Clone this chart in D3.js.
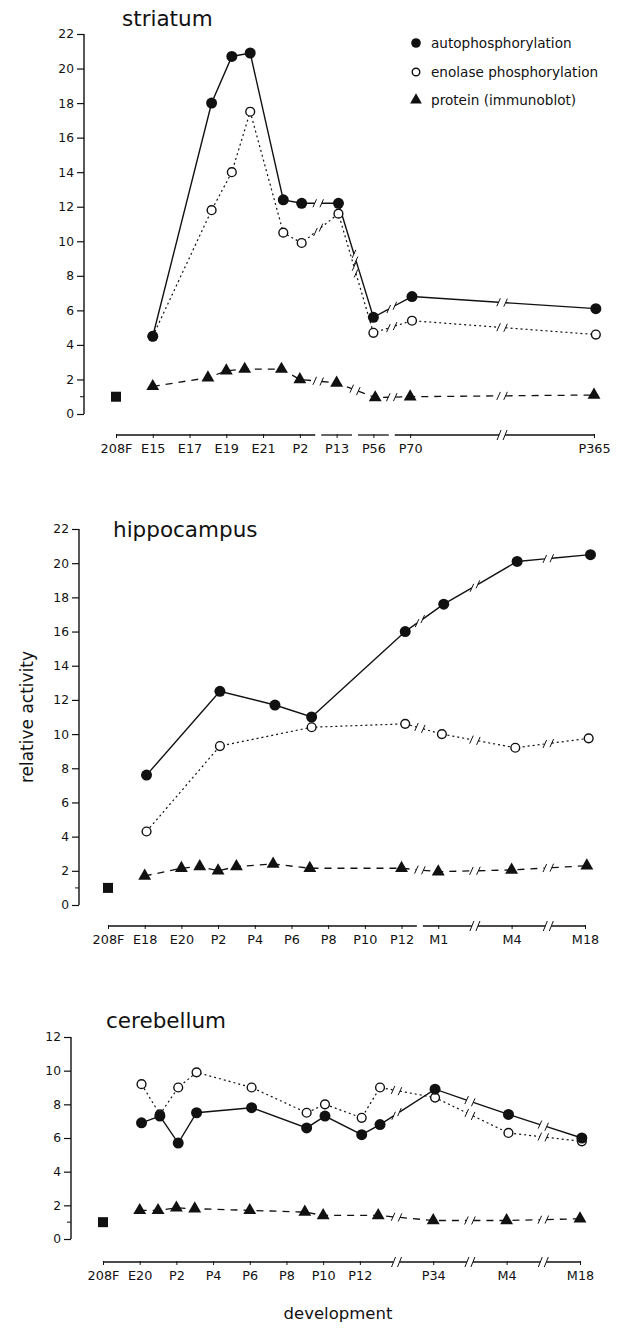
<!DOCTYPE html>
<html><head><meta charset="utf-8">
<script src="https://cdn.jsdelivr.net/npm/d3@7/dist/d3.min.js"></script>
<style>
body{margin:0;background:#fff;}
svg{display:block;}
text{font-family:"DejaVu Sans",sans-serif;fill:#111;}
</style></head>
<body><svg id="c" width="619" height="1329"></svg>
<script>
// ---------- DATA ----------
// Striatum
const strTickLabels = ["208F","E15","E17","E19","E21","P2","P13","P56","P70","P365"];
const strTickPos    = [0,1,2,3,4,5,6,7,8,13];
const strCircX      = [1.0,2.6,3.15,3.65,4.55,5.05,6.05,7.0,8.05,13.05];
const strAuto       = [4.5,18.0,20.7,20.9,12.4,12.2,12.2,5.6,6.8,6.1];
const strEnol       = [4.5,11.8,14.0,17.5,10.5,9.9,11.6,4.7,5.4,4.6];
const strTriX       = [1,2.5,3,3.5,4.5,5,6,7.05,8,13];
const strProt       = [1.6,2.1,2.5,2.6,2.6,2.0,1.8,0.95,1.0,1.1];
const strBreaks     = [5.5,6.5,7.5,10.5];
const strAxisSlash  = [10.5];

// Hippocampus
const hipTickLabels = ["208F","E18","E20","P2","P4","P6","P8","P10","P12","M1","M4","M18"];
const hipTickPos    = [0,1,2,3,4,5,6,7,8,9,11,13];
const hipAutoX      = [1.05,3.05,4.55,5.55,8.1,9.15,11.15,13.15];
const hipAuto       = [7.6,12.5,11.7,11.0,16.0,17.6,20.1,20.5];
const hipEnolX      = [1.05,3.05,5.55,8.1,9.1,11.1,13.1];
const hipEnol       = [4.3,9.3,10.4,10.6,10.0,9.2,9.75];
const hipTriX       = [1,2,2.5,3,3.5,4.5,5.5,8,9,11,13.05];
const hipProt       = [1.7,2.15,2.25,2.0,2.25,2.4,2.15,2.15,1.95,2.05,2.3];
const hipBreaks     = [8.5,10,12];
const hipAxisSlash  = [10,12];

// Cerebellum
const cerTickLabels = ["208F","E20","P2","P4","P6","P8","P10","P12","P34","M4","M18"];
const cerTickPos    = [0,1,2,3,4,5,6,7,9,11,13];
const cerCircX      = [1.05,1.55,2.05,2.55,4.05,5.55,6.05,7.05,7.55,9.05,11.05,13.05];
const cerAuto       = [6.9,7.3,5.7,7.5,7.8,6.6,7.3,6.2,6.8,8.9,7.4,6.0];
const cerEnol       = [9.2,7.4,9.0,9.9,9.0,7.5,8.0,7.2,9.0,8.4,6.3,5.8];
const cerTriX       = [1,1.5,2,2.5,4,5.5,6,7.5,9,11,13];
const cerProt       = [1.7,1.7,1.85,1.8,1.7,1.6,1.4,1.4,1.1,1.1,1.2];
const cerBreaks     = [8,10,12];
const cerAxisSlash  = [8,10,12];

const refValue = 1.0; // 208F reference (square)
const legendLabels = ["autophosphorylation","enolase phosphorylation","protein (immunoblot)"];

// ---------- LAYOUT ----------
const svg = d3.select("#c");
const panels = [
  {title:"striatum", titleX:122, titleY:26, yAxisX:84, yTop:34, yBot:414, yMax:22,
   xL:116, xR:594, axisY:435, tickLabels:strTickLabels, tickPos:strTickPos,
   auto:{x:strCircX,y:strAuto}, enol:{x:strCircX,y:strEnol}, prot:{x:strTriX,y:strProt},
   breaks:strBreaks, axisSlash:strAxisSlash},
  {title:"hippocampus", titleX:113, titleY:537, yAxisX:79, yTop:529, yBot:905, yMax:22,
   xL:108, xR:585, axisY:926, tickLabels:hipTickLabels, tickPos:hipTickPos,
   auto:{x:hipAutoX,y:hipAuto}, enol:{x:hipEnolX,y:hipEnol}, prot:{x:hipTriX,y:hipProt},
   breaks:hipBreaks, axisSlash:hipAxisSlash},
  {title:"cerebellum", titleX:106, titleY:1028, yAxisX:71, yTop:1037, yBot:1239, yMax:12,
   xL:103, xR:580, axisY:1262, tickLabels:cerTickLabels, tickPos:cerTickPos,
   auto:{x:cerCircX,y:cerAuto}, enol:{x:cerCircX,y:cerEnol}, prot:{x:cerTriX,y:cerProt},
   breaks:cerBreaks, axisSlash:cerAxisSlash}
];

function drawSeries(g, xs, ys, sx, sy, breaks, style){
  const pts = xs.map((x,i)=>[sx(x), sy(ys[i])]);
  const gap = 3.5;
  let segs = [];
  let cur = [pts[0]];
  const slashes = [];
  for(let i=0;i<pts.length-1;i++){
    const a=pts[i], b=pts[i+1];
    const x0=xs[i], x1=xs[i+1];
    const bs = breaks.filter(v=>v>x0 && v<x1);
    if(bs.length){
      const bx = bs[0];
      const t = (bx-x0)/(x1-x0);
      const px = a[0]+(b[0]-a[0])*t, py=a[1]+(b[1]-a[1])*t;
      const len = Math.hypot(b[0]-a[0], b[1]-a[1]);
      const ux=(b[0]-a[0])/len, uy=(b[1]-a[1])/len;
      cur.push([px-ux*gap, py-uy*gap]);
      segs.push(cur);
      cur=[[px+ux*gap, py+uy*gap], b];
      slashes.push([px-ux*gap,py-uy*gap],[px+ux*gap,py+uy*gap]);
    } else cur.push(b);
  }
  segs.push(cur);
  const line = d3.line();
  segs.forEach(s=>{
    g.append("path").attr("d", line(s)).attr("fill","none")
     .attr("stroke","#111").attr("stroke-width", style.w)
     .attr("stroke-dasharray", style.dash||null);
  });
  slashes.forEach(p=>{
    g.append("line").attr("x1",p[0]-1.8).attr("y1",p[1]+4).attr("x2",p[0]+1.8).attr("y2",p[1]-4)
     .attr("stroke","#111").attr("stroke-width",1);
  });
  return pts;
}

panels.forEach(P=>{
  const g = svg.append("g");
  const sx = d3.scaleLinear().domain([0,13]).range([P.xL,P.xR]);
  const sy = d3.scaleLinear().domain([0,P.yMax]).range([P.yBot,P.yTop]);

  // y axis
  const yAx = d3.axisLeft(sy).tickValues(d3.range(0,P.yMax+1,2)).tickSize(7).tickPadding(3);
  const ya = g.append("g").attr("transform",`translate(${P.yAxisX},0)`).call(yAx);
  ya.select(".domain").attr("d",`M0,${P.yBot}V${P.yTop}`).attr("stroke","#111").attr("stroke-width",1.4);
  ya.selectAll(".tick line").attr("stroke","#111").attr("stroke-width",1.2);
  ya.selectAll(".tick text").attr("font-family","DejaVu Sans").attr("font-size",12.3).attr("fill","#111");
  g.append("line").attr("x1",P.yAxisX-4).attr("x2",P.yAxisX).attr("y1",sy(1)).attr("y2",sy(1))
   .attr("stroke","#111").attr("stroke-width",1);

  // x axis (broken)
  const xAx = d3.axisBottom(sx).tickValues(P.tickPos).tickFormat((d,i)=>P.tickLabels[i]).tickSize(3).tickPadding(6);
  const xa = g.append("g").attr("transform",`translate(0,${P.axisY})`).call(xAx);
  xa.select(".domain").remove();
  xa.selectAll(".tick line").attr("stroke","#111").attr("stroke-width",1).attr("y1",-1);
  xa.selectAll(".tick text").attr("font-family","DejaVu Sans").attr("font-size",12.8).attr("fill","#111");
  const cuts = [0, ...P.breaks, 13];
  for(let i=0;i<cuts.length-1;i++){
    const a = sx(cuts[i]) + (i>0?3:0), b = sx(cuts[i+1]) - (i<cuts.length-2?3:0);
    g.append("line").attr("x1",a).attr("x2",b).attr("y1",P.axisY).attr("y2",P.axisY)
     .attr("stroke","#111").attr("stroke-width",1.3);
  }
  P.axisSlash.forEach(v=>{
    [-3,3].forEach(o=>{
      g.append("line").attr("x1",sx(v)+o-2).attr("y1",P.axisY+5).attr("x2",sx(v)+o+2).attr("y2",P.axisY-5)
       .attr("stroke","#111").attr("stroke-width",1);
    });
  });

  // title
  g.append("text").attr("x",P.titleX).attr("y",P.titleY).attr("font-size",21.5).text(P.title);

  // series
  const autoPts = drawSeries(g,P.auto.x,P.auto.y,sx,sy,P.breaks,{w:1.4});
  const enolPts = drawSeries(g,P.enol.x,P.enol.y,sx,sy,P.breaks,{w:1.2,dash:"2,3"});
  const protPts = drawSeries(g,P.prot.x,P.prot.y,sx,sy,P.breaks,{w:1.3,dash:"7,6"});

  const tri = d3.symbol().type(d3.symbolTriangle).size(72);
  g.selectAll(null).data(protPts).join("path").attr("d",tri)
   .attr("transform",d=>`translate(${d[0]},${d[1]})`).attr("fill","#111");
  g.selectAll(null).data(enolPts).join("circle").attr("cx",d=>d[0]).attr("cy",d=>d[1]).attr("r",4.4)
   .attr("fill","#fff").attr("stroke","#111").attr("stroke-width",1.4);
  g.selectAll(null).data(autoPts).join("circle").attr("cx",d=>d[0]).attr("cy",d=>d[1]).attr("r",5.5)
   .attr("fill","#111");
  g.append("rect").attr("x",sx(0)-5).attr("y",sy(refValue)-5).attr("width",10).attr("height",10).attr("fill","#111");
});

// legend
const lg = svg.append("g");
const lx = 416, ly=[43,72,100];
lg.append("circle").attr("cx",lx).attr("cy",ly[0]).attr("r",4.8).attr("fill","#111");
lg.append("circle").attr("cx",lx).attr("cy",ly[1]).attr("r",3.8).attr("fill","#fff").attr("stroke","#111").attr("stroke-width",1.4);
lg.append("path").attr("d",d3.symbol().type(d3.symbolTriangle).size(60)).attr("transform",`translate(${lx},${ly[2]})`).attr("fill","#111");
legendLabels.forEach((t,i)=>{
  lg.append("text").attr("x",431).attr("y",ly[i]+5).attr("font-size",13.6).text(t);
});

// axis labels
svg.append("text").attr("transform","translate(33,717) rotate(-90)").attr("text-anchor","middle")
  .attr("font-size",17).text("relative activity");
svg.append("text").attr("x",338).attr("y",1319).attr("text-anchor","middle").attr("font-size",16.5).text("development");
</script></body></html>
